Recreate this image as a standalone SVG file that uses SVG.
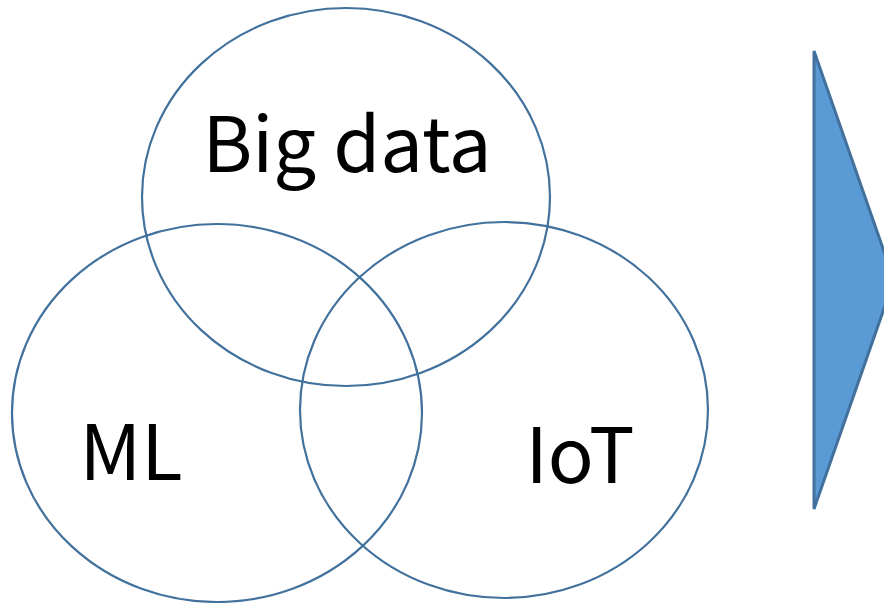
<svg xmlns="http://www.w3.org/2000/svg" width="884" height="603" viewBox="0 0 884 603">
<style>
.c{fill:none;stroke:#41719C;stroke-width:2.2}
.t{font-family:"Noto Sans CJK JP","Liberation Sans",sans-serif;font-size:76px;fill:#000}
</style>
<rect width="884" height="603" fill="#fff"/>
<g id="bigdata"><ellipse class="c" cx="346" cy="197" rx="204" ry="189"/><text class="t" x="347" y="172" text-anchor="middle">Big data</text></g>
<g id="ml"><ellipse class="c" cx="217" cy="413" rx="205" ry="189"/><text class="t" x="131" y="480" text-anchor="middle">ML</text></g>
<g id="iot"><ellipse class="c" cx="504" cy="410" rx="204" ry="188"/><text class="t" x="580" y="483" text-anchor="middle">IoT</text></g>
<g id="arrow"><polygon points="814,51 894,280 814,509" fill="#5B9BD5" stroke="#41719C" stroke-width="3"/></g>
<g id="connectors"/>
</svg>
